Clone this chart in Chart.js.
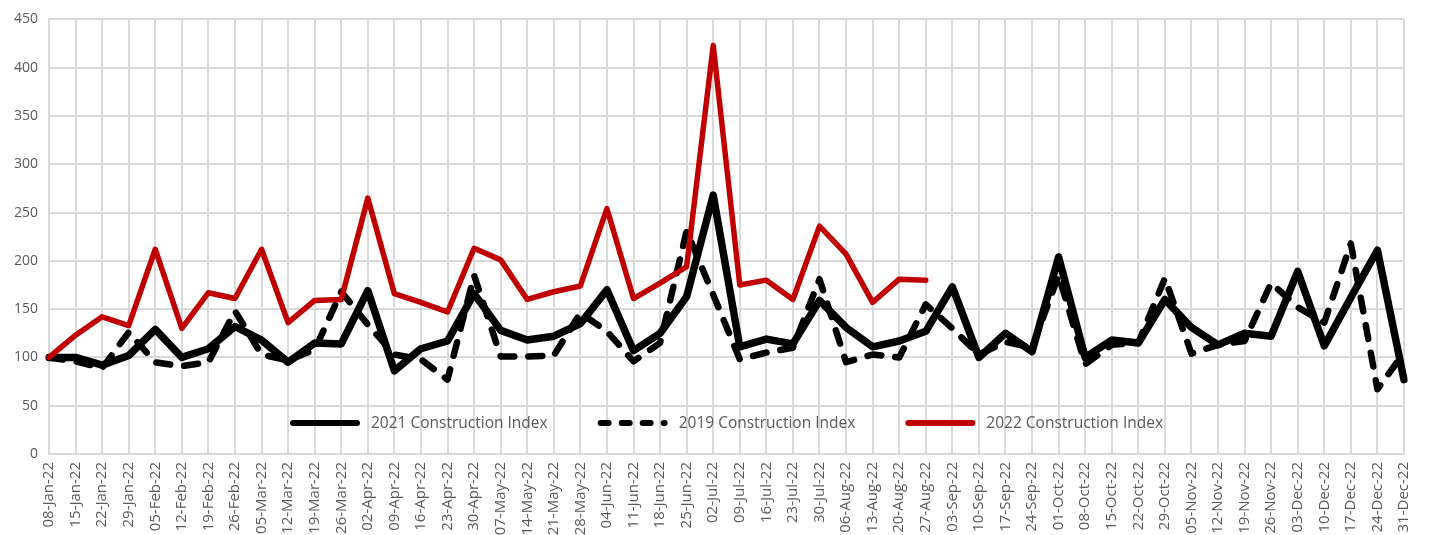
<!DOCTYPE html>
<html>
<head>
<meta charset="utf-8">
<title>Construction Index</title>
<script src="https://cdn.jsdelivr.net/npm/chart.js@4.4.1/dist/chart.umd.min.js"></script>
<style>
  html, body { margin: 0; padding: 0; background: #ffffff; }
  canvas { display: block; }
</style>
</head>
<body>
<canvas id="chart" width="1434" height="535"></canvas>
<script>
// Week-ending dates
const weeks = [
  '08-Jan-22', '15-Jan-22', '22-Jan-22', '29-Jan-22', '05-Feb-22', '12-Feb-22', '19-Feb-22', '26-Feb-22',
  '05-Mar-22', '12-Mar-22', '19-Mar-22', '26-Mar-22', '02-Apr-22', '09-Apr-22', '16-Apr-22', '23-Apr-22',
  '30-Apr-22', '07-May-22', '14-May-22', '21-May-22', '28-May-22', '04-Jun-22', '11-Jun-22', '18-Jun-22',
  '25-Jun-22', '02-Jul-22', '09-Jul-22', '16-Jul-22', '23-Jul-22', '30-Jul-22', '06-Aug-22', '13-Aug-22',
  '20-Aug-22', '27-Aug-22', '03-Sep-22', '10-Sep-22', '17-Sep-22', '24-Sep-22', '01-Oct-22', '08-Oct-22',
  '15-Oct-22', '22-Oct-22', '29-Oct-22', '05-Nov-22', '12-Nov-22', '19-Nov-22', '26-Nov-22', '03-Dec-22',
  '10-Dec-22', '17-Dec-22', '24-Dec-22', '31-Dec-22'
];

// Weekly index values (first week = 100)
const index2021 = [
  100, 100, 92, 102, 129, 100, 109, 132, 118, 95, 115, 114, 169, 86, 109, 117,
  166, 128, 118, 122, 135, 170, 107, 125, 163, 268, 111, 119, 114, 159, 131, 111,
  117, 127, 173, 100, 125, 106, 204, 100, 118, 115, 160, 131, 113, 125, 122, 189,
  112, 162, 211, 77
];
const index2019 = [
  100, 96, 89, 126, 95, 91, 95, 148, 103, 97, 108, 168, 134, 103, 98, 77,
  185, 101, 101, 102, 146, 127, 96, 115, 231, 165, 98, 105, 110, 181, 95, 103,
  100, 155, 130, 103, 116, 110, 185, 93, 113, 115, 182, 104, 113, 117, 177, 152,
  136, 218, 67, 105
];
const index2022 = [
  100, 123, 142, 133, 212, 130, 167, 161, 212, 136, 159, 160, 265, 166, 157, 147,
  213, 201, 160, 168, 174, 254, 161, 177, 194, 423, 175, 180, 160, 236, 207, 157,
  181, 180
];

const seriesNames = ['2021 Construction Index', '2019 Construction Index', '2022 Construction Index'];
const yMin = 0, yMax = 450, yStep = 50;

const GRID = '#d9d9d9';
const TEXT = '#595959';
const FONT = '"Open Sans", "Noto Sans", sans-serif';

// Dash patterns for the 2019 series: in the plot and in the key
const plotDash = [14, 14];
const keyDash = [8, 13];

// Key drawn inside the plot area, centred near its bottom edge
const insideKey = {
  id: 'insideKey',
  afterDatasetsDraw(chart) {
    const { ctx, chartArea } = chart;
    const y = chartArea.bottom - 31;
    const sample = 70, textGap = 11, itemGap = 50;
    ctx.save();
    ctx.font = '15.5px ' + FONT;
    const items = chart.data.datasets.map(ds => ({
      ds,
      w: sample + textGap + ctx.measureText(ds.label).width
    }));
    const total = items.reduce((s, it) => s + it.w, 0) + itemGap * (items.length - 1);
    let x = (chartArea.left + chartArea.right) / 2 - total / 2;
    items.forEach(it => {
      ctx.beginPath();
      ctx.strokeStyle = it.ds.borderColor;
      ctx.lineWidth = 6;
      ctx.lineCap = 'round';
      ctx.setLineDash(it.ds.borderDash && it.ds.borderDash.length ? keyDash : []);
      ctx.moveTo(x + 3, y);
      ctx.lineTo(x + sample - 3, y);
      ctx.stroke();
      ctx.setLineDash([]);
      ctx.fillStyle = TEXT;
      ctx.textBaseline = 'middle';
      ctx.textAlign = 'left';
      ctx.fillText(it.ds.label, x + sample + textGap, y + 1);
      x += it.w + itemGap;
    });
    ctx.restore();
  }
};

new Chart(document.getElementById('chart'), {
  type: 'line',
  data: {
    labels: weeks,
    datasets: [
      {
        label: seriesNames[0],
        data: index2021,
        borderColor: '#000000',
        borderWidth: 7.5,
        order: 3
      },
      {
        label: seriesNames[1],
        data: index2019,
        borderColor: '#000000',
        borderWidth: 6.5,
        borderDash: plotDash,
        order: 2
      },
      {
        label: seriesNames[2],
        data: index2022,
        borderColor: '#c00000',
        borderWidth: 5.5,
        order: 1
      }
    ]
  },
  options: {
    responsive: false,
    animation: false,
    devicePixelRatio: 1,
    layout: { padding: { left: 0, right: 30, top: 18, bottom: 0 } },
    elements: {
      line: {
        tension: 0,
        borderCapStyle: 'round',
        borderJoinStyle: 'round',
        fill: false
      },
      point: { radius: 0, hoverRadius: 0 }
    },
    plugins: {
      legend: { display: false },
      tooltip: { enabled: false },
      title: { display: false }
    },
    scales: {
      x: {
        offset: false,
        grid: { color: GRID, lineWidth: 2, drawTicks: false },
        border: { color: GRID, width: 2 },
        ticks: {
          autoSkip: false,
          maxRotation: 90,
          minRotation: 90,
          padding: 8,
          color: TEXT,
          font: { family: FONT, size: 15 }
        },
        afterFit(scale) { scale.height = 81; }
      },
      y: {
        min: yMin,
        max: yMax,
        grid: { color: GRID, lineWidth: 2, drawTicks: false },
        border: { color: GRID, width: 2 },
        ticks: {
          stepSize: yStep,
          padding: 11,
          color: TEXT,
          font: { family: FONT, size: 14 }
        },
        afterFit(scale) { scale.width = 49; }
      }
    }
  },
  plugins: [insideKey]
});
</script>
</body>
</html>
